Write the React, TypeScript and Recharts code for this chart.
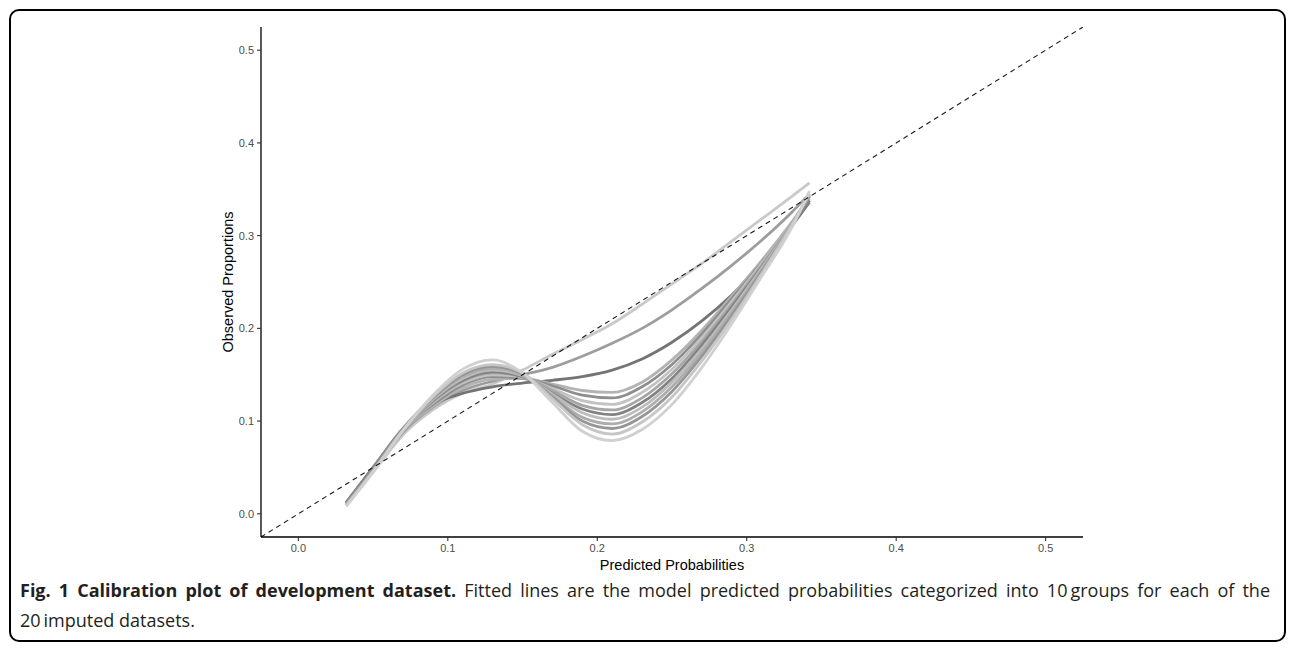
import React from "react";
import { LineChart, Line, XAxis, YAxis, Label } from "recharts";

// Predicted probability grid (x) shared by all fitted curves
const xPoints = [0.032, 0.05, 0.07, 0.09, 0.11, 0.13, 0.15, 0.17, 0.19, 0.21, 0.23, 0.25, 0.27, 0.29, 0.31, 0.33, 0.342];

// Observed proportions for each imputed dataset's fitted curve
const imp01 = [0.012, 0.045, 0.085, 0.112, 0.13, 0.14, 0.155, 0.172, 0.188, 0.205, 0.226, 0.248, 0.27, 0.294, 0.318, 0.342, 0.357];
const imp02 = [0.01, 0.047, 0.088, 0.115, 0.133, 0.143, 0.15, 0.158, 0.17, 0.184, 0.2, 0.22, 0.243, 0.268, 0.295, 0.325, 0.345];
const imp03 = [0.012, 0.05, 0.09, 0.118, 0.13, 0.137, 0.141, 0.144, 0.148, 0.155, 0.167, 0.185, 0.208, 0.236, 0.27, 0.31, 0.336];
const imp04 = [0.011, 0.048, 0.09, 0.116, 0.136, 0.145, 0.146, 0.14, 0.133, 0.131, 0.142, 0.166, 0.198, 0.235, 0.273, 0.314, 0.34];
const imp05 = [0.012, 0.05, 0.092, 0.118, 0.139, 0.148, 0.146, 0.138, 0.128, 0.125, 0.137, 0.161, 0.194, 0.232, 0.271, 0.313, 0.338];
const imp06 = [0.01, 0.047, 0.09, 0.12, 0.141, 0.15, 0.147, 0.135, 0.122, 0.118, 0.131, 0.156, 0.19, 0.229, 0.27, 0.314, 0.342];
const imp07 = [0.009, 0.046, 0.089, 0.121, 0.143, 0.152, 0.148, 0.133, 0.117, 0.112, 0.125, 0.151, 0.186, 0.226, 0.268, 0.313, 0.342];
const imp08 = [0.012, 0.049, 0.091, 0.122, 0.144, 0.153, 0.148, 0.13, 0.113, 0.107, 0.12, 0.146, 0.182, 0.223, 0.266, 0.311, 0.338];
const imp09 = [0.01, 0.047, 0.09, 0.123, 0.146, 0.155, 0.149, 0.129, 0.109, 0.102, 0.115, 0.142, 0.178, 0.22, 0.265, 0.312, 0.343];
const imp10 = [0.009, 0.046, 0.09, 0.124, 0.148, 0.157, 0.15, 0.127, 0.104, 0.097, 0.11, 0.137, 0.174, 0.217, 0.263, 0.312, 0.344];
const imp11 = [0.011, 0.048, 0.092, 0.125, 0.15, 0.159, 0.151, 0.126, 0.1, 0.092, 0.105, 0.132, 0.17, 0.214, 0.261, 0.311, 0.343];
const imp12 = [0.009, 0.046, 0.09, 0.126, 0.152, 0.161, 0.152, 0.124, 0.096, 0.086, 0.099, 0.126, 0.165, 0.21, 0.259, 0.311, 0.345];
const imp13 = [0.008, 0.045, 0.09, 0.128, 0.156, 0.166, 0.152, 0.12, 0.089, 0.079, 0.091, 0.118, 0.158, 0.205, 0.256, 0.308, 0.348];

const curves = [imp01, imp02, imp03, imp04, imp05, imp06, imp07, imp08, imp09, imp10, imp11, imp12, imp13];
const curveColors = ["#c9c9c9", "#9d9d9d", "#747474", "#b3b3b3", "#8e8e8e", "#c2c2c2", "#a6a6a6", "#828282", "#bcbcbc", "#adadad", "#969696", "#c6c6c6", "#d0d0d0"];

// Perfect-calibration reference (y = x) across the panel
const diagonal = [{ x: -0.025, d: -0.025 }, { x: 0.525, d: 0.525 }];

const ticks = [0, 0.1, 0.2, 0.3, 0.4, 0.5];
const xTitle = "Predicted Probabilities";
const yTitle = "Observed Proportions";
const captionBold = "Fig. 1 Calibration plot of development dataset.";
const captionLine1 = " Fitted lines are the model predicted probabilities categorized into 10\u2009groups for each of the";
const captionLine2 = "20\u2009imputed datasets.";

const table = xPoints.map((x, i) => {
  const row: Record<string, number> = { x };
  curves.forEach((c, k) => {
    row["s" + k] = c[i];
  });
  return row;
});

const tickStyle = { fontFamily: "Liberation Sans, Arial, sans-serif", fontSize: 11, fill: "#4d4d4d" };
const titleFont = "Liberation Sans, Arial, sans-serif";

export default function App() {
  return (
    <div style={{ position: "absolute", left: 0, top: 0, width: 1295, height: 651, background: "#fff", overflow: "hidden" }}>
      <div
        style={{
          position: "absolute",
          left: 9,
          top: 9,
          width: 1273,
          height: 629,
          border: "2px solid #000",
          borderRadius: 10,
        }}
      />
      <div style={{ position: "absolute", left: 0, top: 0 }}>
        <LineChart width={1295} height={651} data={table} margin={{ top: 27, right: 212, bottom: 84, left: 201 }}>
          <XAxis
            dataKey="x"
            type="number"
            domain={[-0.025, 0.525]}
            ticks={ticks}
            tickFormatter={(v: number) => v.toFixed(1)}
            tick={tickStyle}
            tickSize={4}
            tickMargin={3}
            height={30}
            axisLine={{ stroke: "#000", strokeWidth: 1.3 }}
            tickLine={{ stroke: "#333", strokeWidth: 1.1 }}
            allowDataOverflow
          >
            <Label
              content={(props: any) => {
                const vb = props.viewBox || { x: 261, y: 537, width: 822, height: 30 };
                return (
                  <text x={vb.x + vb.width / 2} y={vb.y + 28} textAnchor="middle" dominantBaseline="central" fontFamily={titleFont} fontSize={14.5} fill="#000">
                    {xTitle}
                  </text>
                );
              }}
            />
          </XAxis>
          <YAxis
            type="number"
            domain={[-0.025, 0.525]}
            ticks={ticks}
            tickFormatter={(v: number) => v.toFixed(1)}
            tick={tickStyle}
            tickSize={4}
            tickMargin={3}
            width={60}
            axisLine={{ stroke: "#000", strokeWidth: 1.3 }}
            tickLine={{ stroke: "#333", strokeWidth: 1.1 }}
            allowDataOverflow
          >
            <Label
              content={(props: any) => {
                const vb = props.viewBox || { x: 201, y: 27, width: 60, height: 510 };
                const cx = vb.x + 27;
                const cy = vb.y + vb.height / 2;
                return (
                  <text x={cx} y={cy} transform={`rotate(-90 ${cx} ${cy})`} textAnchor="middle" dominantBaseline="central" fontFamily={titleFont} fontSize={14.5} fill="#000">
                    {yTitle}
                  </text>
                );
              }}
            />
          </YAxis>
          {curves.map((_, k) => (
            <Line
              key={k}
              dataKey={"s" + k}
              type="monotone"
              stroke={curveColors[k]}
              strokeWidth={2.8}
              dot={false}
              activeDot={false}
              isAnimationActive={false}
            />
          ))}
          <Line
            data={diagonal}
            dataKey="d"
            type="linear"
            stroke="#1a1a1a"
            strokeWidth={1.1}
            strokeDasharray="5 4"
            dot={false}
            activeDot={false}
            isAnimationActive={false}
          />
        </LineChart>
      </div>
      <div
        style={{
          position: "absolute",
          left: 20,
          top: 575,
          width: 1250,
          fontFamily: "'Liberation Sans Narrow', 'Open Sans', sans-serif",
          fontSize: 18,
          lineHeight: "30px",
          color: "#231f20",
        }}
      >
        <div style={{ textAlign: "justify", textAlignLast: "justify", whiteSpace: "nowrap" as any }}>
          <span style={{ fontWeight: 700 }}>{captionBold}</span>
          <span>{captionLine1}</span>
        </div>
        <div>{captionLine2}</div>
      </div>
    </div>
  );
}
